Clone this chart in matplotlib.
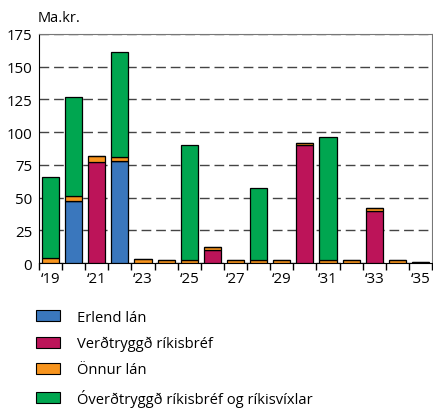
import numpy as np
import matplotlib
matplotlib.use('Agg')
import matplotlib.pyplot as plt
from matplotlib.patches import Patch

plt.rcParams['font.family'] = ['Open Sans', 'DejaVu Sans']

# data (Ma.kr.)
years = list(range(2019, 2036))
erlend = [0, 47, 0, 78, 0, 0, 0, 0, 0, 0, 0, 0, 0, 0, 0, 0, 0]
verdtr = [0, 0, 77, 0, 0, 0, 0, 10, 0, 0, 0, 90, 0, 0, 40, 0, 0]
onnur = [4, 4, 5, 3, 3, 2, 2, 2, 2, 2, 2, 2, 2, 2, 2, 2, 0.8]
overdtr = [62, 76, 0, 80, 0, 0, 88, 0, 0, 55, 0, 0, 94, 0, 0, 0, 0]

names = ['Erlend lán', 'Verðtryggð ríkisbréf', 'Önnur lán',
         'Óverðtryggð ríkisbréf og ríkisvíxlar']
colors = ['#3a77bd', '#bc1459', '#f7941d', '#00a650']

fig = plt.figure(figsize=(4.33, 4.10), dpi=100)
ax = fig.add_axes([39/433, (410-264)/410, (432-39)/433, (264-35)/410])

x = np.arange(len(years))
bottom = np.zeros(len(years))
for vals, c in zip([erlend, verdtr, onnur, overdtr], colors):
    vals = np.array(vals, dtype=float)
    ax.bar(x, vals, width=0.74, bottom=bottom, color=c, edgecolor='black',
           linewidth=0.9, zorder=3)
    bottom += vals

ax.set_xlim(-0.5, len(years) - 0.5)
ax.set_ylim(0, 175)
ax.set_yticks(range(0, 176, 25))
ax.tick_params(axis='y', length=0, labelsize=10.8, pad=5)
ax.yaxis.grid(True, linestyle=(0, (7, 3.5)), color='#444444', linewidth=1.0, zorder=0)

ax.set_xticks(x[::2])
ax.set_xticklabels(["\u2018" + str(y)[2:] for y in years[::2]])
ax.set_xticks(np.arange(-0.5, len(years), 1), minor=True)
ax.tick_params(axis='x', which='major', length=0, labelsize=10.8, pad=6)
ax.tick_params(axis='x', which='minor', length=5, width=1, color='black')

for s in ['top', 'right']:
    ax.spines[s].set_color('#777777')
for s in ['left', 'bottom']:
    ax.spines[s].set_color('black')

fig.text(38/433, (410-19)/410, 'Ma.kr.', fontsize=10.5, va='center', ha='left')

handles = [Patch(facecolor=c, edgecolor='black', linewidth=0.8) for c in colors]
fig.legend(handles, names, loc='upper left', bbox_to_anchor=(36/433, 0.242),
           frameon=False, fontsize=10.6, handlelength=1.65, handleheight=0.75,
           handletextpad=1.15, labelspacing=0.76, borderaxespad=0, borderpad=0)

fig.savefig('out.png', dpi=100)
